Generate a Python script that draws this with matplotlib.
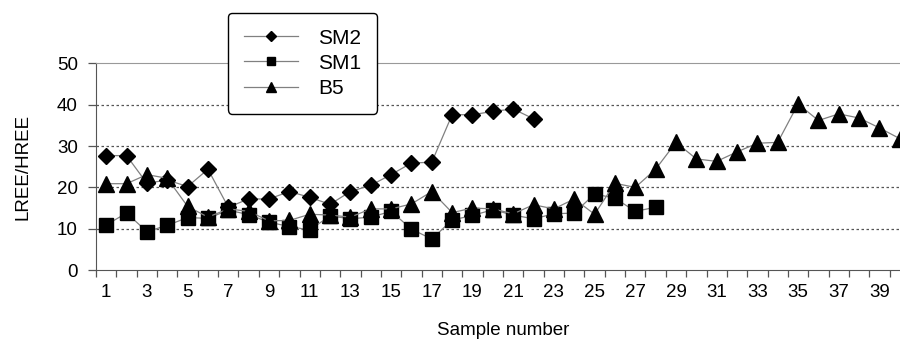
"""LREE/HREE ratio per sample"""

import matplotlib.pyplot as plt
from matplotlib.ticker import FixedLocator

plt.rcParams["font.family"] = ["Liberation Sans", "DejaVu Sans"]

SM2 = [27.7, 27.7, 21.0, 21.8, 20.2, 24.4, 15.2, 17.2, 17.2, 19.0,
       17.6, 15.9, 19.0, 20.5, 23.1, 25.9, 26.1, 37.6, 37.6, 38.4,
       39.0, 36.6]
SM1 = [10.9, 13.8, 9.3, 10.8, 12.7, 12.5, 14.5, 13.4, 11.6, 10.5,
       9.7, 13.1, 12.4, 12.8, 14.2, 9.9, 7.5, 12.1, 13.2, 14.6,
       13.3, 12.4, 13.6, 13.8, 18.4, 17.4, 14.2, 15.2]
B5 = [20.9, 20.9, 23.1, 22.2, 15.4, 12.8, 14.8, 14.2, 11.9, 12.0,
      13.5, 13.3, 12.8, 14.8, 14.8, 16.0, 19.0, 13.9, 15.0, 14.8,
      13.6, 15.8, 14.8, 17.2, 13.5, 21.0, 20.0, 24.4, 30.9, 26.9,
      26.3, 28.6, 30.7, 30.9, 40.2, 36.2, 37.8, 36.8, 34.4, 31.8]

FS = 13.5

fig = plt.figure(figsize=(9, 3.43), dpi=100)
ax = fig.add_axes([0.1067, 0.2128, 0.9044, 0.6021])

line_kw = dict(color="#808080", linewidth=0.9, markerfacecolor="black",
               markeredgecolor="black")
ax.plot(range(1, len(SM2) + 1), SM2, marker="D", markersize=8,
        label="SM2", **line_kw)
ax.plot(range(1, len(SM1) + 1), SM1, marker="s", markersize=10,
        label="SM1", **line_kw)
ax.plot(range(1, len(B5) + 1), B5, marker="^", markersize=11,
        label="B5", **line_kw)

ax.set_xlim(0.5, 40.5)
ax.set_ylim(0, 50)
ax.set_yticks(range(0, 51, 10))
for y in range(10, 50, 10):
    ax.axhline(y, color="#555555", linewidth=0.9, linestyle=(0, (2, 2)),
               zorder=0)

ax.xaxis.set_major_locator(FixedLocator(range(1, 41, 2)))
ax.xaxis.set_minor_locator(FixedLocator([i + 0.5 for i in range(0, 41)]))
ax.tick_params(axis="x", which="major", length=0, pad=10, labelsize=FS)
ax.tick_params(axis="x", which="minor", length=5, width=0.9,
               color="#555555")
ax.tick_params(axis="y", length=6, width=0.9, color="#555555",
               labelsize=FS, pad=7)

for side in ("left", "bottom"):
    ax.spines[side].set_color("#555555")
ax.spines["top"].set_color("#999999")
ax.spines["right"].set_visible(False)

ax.set_xlabel("Sample number", fontsize=FS, labelpad=15)
ax.set_ylabel("LREE/HREE", fontsize=FS, labelpad=18)

leg = ax.legend(loc="upper left", bbox_to_anchor=(0.162, 1.245),
                fontsize=15, frameon=True, fancybox=True, edgecolor="black",
                handlelength=2.6, handletextpad=1.0, markerscale=0.6,
                labelspacing=0.3, borderpad=0.75, borderaxespad=0)
leg.get_frame().set_linewidth(1.0)
leg.get_frame().set_alpha(1)

plt.savefig("out.png")
